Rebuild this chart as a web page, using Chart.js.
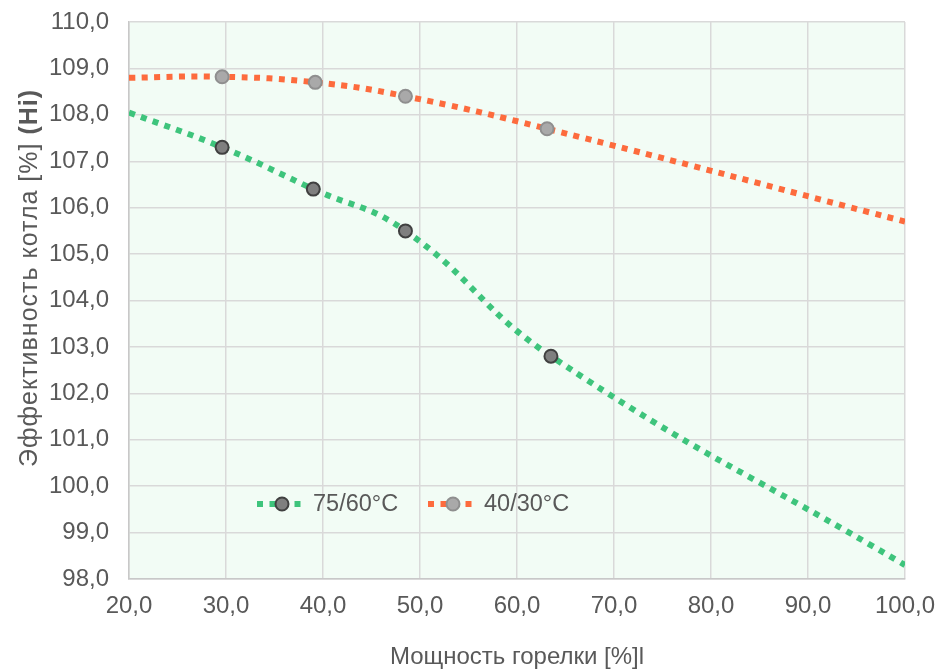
<!DOCTYPE html>
<html>
<head>
<meta charset="utf-8">
<script src="https://cdn.jsdelivr.net/npm/chart.js@4"></script>
<style>
  html, body { margin: 0; padding: 0; background: #fff; }
  #wrap { width: 936px; height: 669px; }
</style>
</head>
<body>
<div id="wrap"><canvas id="myChart" width="936" height="669"></canvas></div>
<script>
// data
const seriesNames = ['75/60°C', '40/30°C'];
const x7560 = [20, 29.6, 39.0, 48.5, 63.5, 100];
const y7560 = [108.05, 107.3, 106.4, 105.5, 102.8, 98.3];
const x4030 = [20, 29.6, 39.2, 48.5, 63.1, 100];
const y4030 = [108.8, 108.82, 108.7, 108.4, 107.7, 105.7];
const markerOn = [0, 1, 1, 1, 1, 0]; // first/last are curve ends, no marker
const xTicks = [20, 30, 40, 50, 60, 70, 80, 90, 100];
const yTicks = [98, 99, 100, 101, 102, 103, 104, 105, 106, 107, 108, 109, 110];

const textColor = '#595959';
const fontFam = '"Liberation Sans", Arial, sans-serif';
const fmt = v => v.toFixed(1).replace('.', ',');

const toPts = (xs, ys) => xs.map((x, i) => ({ x: x, y: ys[i] }));

// plot area fill
const bgPlugin = {
  id: 'plotBg',
  beforeDraw(chart) {
    const a = chart.chartArea, c = chart.ctx;
    c.save();
    c.fillStyle = '#f2fcf5';
    c.fillRect(a.left, a.top, a.right - a.left, a.bottom - a.top);
    c.restore();
  }
};

// y title with bold "(Hi)" and legend inside the plot
const extrasPlugin = {
  id: 'extras',
  afterDraw(chart) {
    const c = chart.ctx;
    c.save();
    const p1 = 'Эффективность котла [%] ';
    const p2 = '(Hi)';
    const f1 = '25px ' + fontFam, f2 = 'bold 25px ' + fontFam;
    c.letterSpacing = '1px';
    c.font = f1; const w1 = c.measureText(p1).width;
    c.font = f2; const w2 = c.measureText(p2).width;
    c.translate(30, 278);
    c.rotate(-Math.PI / 2);
    c.textBaseline = 'middle';
    c.textAlign = 'left';
    c.fillStyle = textColor;
    c.font = f1; c.fillText(p1, -(w1 + w2) / 2, 0);
    c.font = f2; c.fillText(p2, -(w1 + w2) / 2 + w1, 0);
    c.restore();

    // legend
    const starts = [257, 428];
    const ly = 504;
    chart.data.datasets.forEach((ds, i) => {
      const x0 = starts[i];
      c.save();
      c.strokeStyle = ds.borderColor;
      c.lineWidth = ds.borderWidth;
      c.setLineDash(ds.borderDash);
      c.beginPath();
      c.moveTo(x0, ly); c.lineTo(x0 + 46, ly);
      c.stroke();
      c.setLineDash([]);
      c.beginPath();
      c.arc(x0 + 25, ly, 6.5, 0, Math.PI * 2);
      c.fillStyle = ds.pointBackgroundColor;
      c.fill();
      c.lineWidth = 2;
      c.strokeStyle = ds.pointBorderColor;
      c.stroke();
      c.fillStyle = textColor;
      c.font = '23.5px ' + fontFam;
      c.textBaseline = 'middle';
      c.fillText(ds.label, x0 + 56, ly + 1);
      c.restore();
    });
  }
};

const ctx = document.getElementById('myChart').getContext('2d');
const myChart = new Chart(ctx, {
  type: 'scatter',
  data: {
    datasets: [{
      label: seriesNames[0],
      data: toPts(x7560, y7560),
      showLine: true,
      borderColor: '#3ec47c',
      borderWidth: 6,
      borderDash: [6, 6.5],
      borderCapStyle: 'butt',
      tension: 0.45,
      pointRadius: markerOn.map(m => m * 6.5),
      pointBorderWidth: 2,
      pointBackgroundColor: '#7f7f7f',
      pointBorderColor: '#404040'
    }, {
      label: seriesNames[1],
      data: toPts(x4030, y4030),
      showLine: true,
      borderColor: '#fd6b3d',
      borderWidth: 6,
      borderDash: [6, 6.5],
      borderCapStyle: 'butt',
      tension: 0.45,
      pointRadius: markerOn.map(m => m * 6.5),
      pointBorderWidth: 2,
      pointBackgroundColor: '#a9a9a9',
      pointBorderColor: '#8f8f8f'
    }]
  },
  options: {
    responsive: false,
    animation: false,
    layout: { padding: { top: 22, right: 31, left: 0, bottom: 0 } },
    plugins: {
      legend: { display: false },
      tooltip: { enabled: false }
    },
    scales: {
      x: {
        type: 'linear',
        min: xTicks[0],
        max: xTicks[xTicks.length - 1],
        afterBuildTicks: axis => { axis.ticks = xTicks.map(v => ({ value: v })); },
        afterFit: axis => { axis.height = 90; axis.paddingLeft = 0; axis.paddingRight = 0; },
        ticks: {
          color: textColor,
          font: { family: fontFam, size: 24 },
          padding: 13,
          maxRotation: 0,
          callback: v => fmt(v)
        },
        grid: { color: '#d9d9d9', lineWidth: 1.5, drawTicks: false },
        border: { color: '#c8c8c8', width: 1.5 },
        title: {
          display: true,
          text: 'Мощность горелки [%]l',
          color: textColor,
          font: { family: fontFam, size: 24 },
          padding: { top: 4, bottom: -3 }
        }
      },
      y: {
        type: 'linear',
        min: yTicks[0],
        max: yTicks[yTicks.length - 1],
        afterBuildTicks: axis => { axis.ticks = yTicks.map(v => ({ value: v })); },
        afterFit: axis => { axis.width = 129; axis.paddingTop = 0; axis.paddingBottom = 0; },
        ticks: {
          color: textColor,
          font: { family: fontFam, size: 24 },
          padding: 20,
          callback: v => fmt(v)
        },
        grid: { color: '#d9d9d9', lineWidth: 1.5, drawTicks: false },
        border: { color: '#c8c8c8', width: 1.5 }
      }
    }
  },
  plugins: [bgPlugin, extrasPlugin]
});
</script>
</body>
</html>
